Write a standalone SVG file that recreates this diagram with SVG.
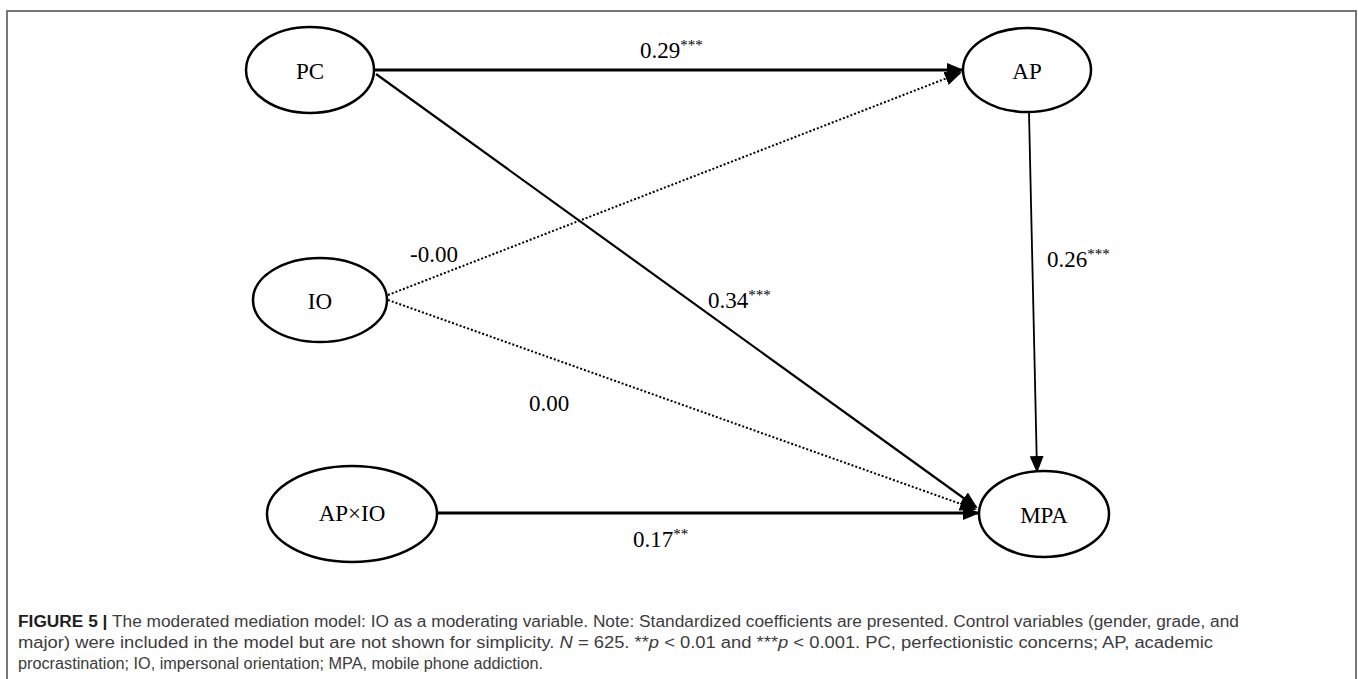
<svg xmlns="http://www.w3.org/2000/svg" width="1358" height="679" viewBox="0 0 1358 679">
<style>
.node{fill:#fff;stroke:#000;stroke-width:2.5}
.nt{font-family:"Liberation Serif",serif;font-size:23px;fill:#000;text-anchor:middle}
.lb{font-family:"Liberation Serif",serif;font-size:23px;fill:#000}
.sup{font-size:15px}
.edge{fill:none;stroke:#000}
.dot{stroke-dasharray:2,2;stroke-width:2}
.cap{font-family:"Liberation Sans",Arial,sans-serif;font-size:16px;fill:#3c3c3c}
.b{font-weight:bold;fill:#1e1e1e}
</style>
<defs>
<marker id="ah" markerUnits="userSpaceOnUse" markerWidth="17" markerHeight="14" refX="15" refY="7" orient="auto">
<path d="M0,0 L17,7 L0,14 z" fill="#000"/>
</marker>
</defs>
<path d="M7,690 L7,11 L1356,11 L1356,690" fill="none" stroke="#777" stroke-width="2"/>
<g id="connectors">
<line class="edge" x1="374" y1="70" x2="962" y2="70" stroke-width="3" marker-end="url(#ah)"/>
<line class="edge dot" x1="388" y1="295" x2="960" y2="73" marker-end="url(#ah)"/>
<line class="edge" x1="376" y1="74" x2="976" y2="507" stroke-width="2.2" marker-end="url(#ah)"/>
<line class="edge dot" x1="388" y1="300" x2="975" y2="509" marker-end="url(#ah)"/>
<line class="edge" x1="1029" y1="113" x2="1037" y2="471" stroke-width="1.8" marker-end="url(#ah)"/>
<line class="edge" x1="437" y1="513" x2="978" y2="513" stroke-width="3" marker-end="url(#ah)"/>
</g>
<g id="node-PC"><ellipse class="node" cx="310" cy="70" rx="64" ry="43"/><text class="nt" x="310" y="79">PC</text></g>
<g id="node-AP"><ellipse class="node" cx="1027" cy="70" rx="64" ry="42"/><text class="nt" x="1027" y="79">AP</text></g>
<g id="node-IO"><ellipse class="node" cx="320" cy="300" rx="67" ry="42"/><text class="nt" x="320" y="309">IO</text></g>
<g id="node-APxIO"><ellipse class="node" cx="352" cy="514" rx="85" ry="48"/><text class="nt" x="352" y="521">AP×IO</text></g>
<g id="node-MPA"><ellipse class="node" cx="1044" cy="514" rx="65" ry="43"/><text class="nt" x="1044" y="523">MPA</text></g>
<g id="labels">
<text class="lb" x="640" y="58">0.29<tspan class="sup" dy="-8">***</tspan></text>
<text class="lb" x="410" y="262">-0.00</text>
<text class="lb" x="708" y="308">0.34<tspan class="sup" dy="-8">***</tspan></text>
<text class="lb" x="1047" y="267">0.26<tspan class="sup" dy="-8">***</tspan></text>
<text class="lb" x="529" y="411">0.00</text>
<text class="lb" x="633" y="547">0.17<tspan class="sup" dy="-8">**</tspan></text>
</g>
<g id="caption">
<text class="cap" x="18" y="627" textLength="1221" lengthAdjust="spacingAndGlyphs"><tspan class="b">FIGURE 5 |</tspan> The moderated mediation model: IO as a moderating variable. Note: Standardized coefficients are presented. Control variables (gender, grade, and</text>
<text class="cap" x="18" y="648" textLength="1195" lengthAdjust="spacingAndGlyphs">major) were included in the model but are not shown for simplicity. <tspan font-style="italic">N</tspan> = 625. **<tspan font-style="italic">p</tspan> &lt; 0.01 and ***<tspan font-style="italic">p</tspan> &lt; 0.001. PC, perfectionistic concerns; AP, academic</text>
<text class="cap" x="18" y="669" textLength="525" lengthAdjust="spacingAndGlyphs">procrastination; IO, impersonal orientation; MPA, mobile phone addiction.</text>
</g>
</svg>
